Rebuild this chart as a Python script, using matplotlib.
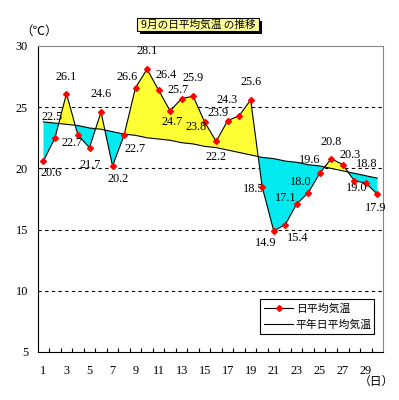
import numpy as np
import matplotlib
matplotlib.use("Agg")
import matplotlib.pyplot as plt
from matplotlib.patches import Rectangle

# September daily mean temperature vs normal
days = list(range(1, 31))
daily = [20.6, 22.5, 26.1, 22.7, 21.7, 24.6, 20.2, 22.7, 26.6, 28.1,
         26.4, 24.7, 25.7, 25.9, 23.8, 22.2, 23.9, 24.3, 25.6, 18.5,
         14.9, 15.4, 17.1, 18.0, 19.6, 20.8, 20.3, 19.0, 18.8, 17.9]
normal = [23.8, 23.7, 23.6, 23.5, 23.3, 23.2, 23.0, 22.8, 22.7, 22.5,
          22.4, 22.3, 22.1, 22.0, 21.8, 21.7, 21.5, 21.3, 21.1, 20.9,
          20.8, 20.6, 20.5, 20.3, 20.2, 20.0, 19.8, 19.6, 19.4, 19.2]
day_ticks = list(range(1, 30, 2))
y_ticks = [5, 10, 15, 20, 25, 30]

# label offsets in pixels (dx right, dy down), picked by eye
lbl_off = [(8, 12), (-3, -21), (0, -17), (-6, 8), (1, 17), (0, -18), (6, 13), (11, 14),
           (-8, -11), (0, -18), (8, -15), (2, 11), (-3, -9), (0, -18), (-9, 5), (0, 16),
           (-10, -8), (-12, -16), (0, -18), (-9, 2), (-8, 12), (12, 13), (-11, -6), (-8, -11),
           (-10, -13), (0, -17), (7, -10), (2, 7), (1, -19), (-2, 14)]

serif = ["Liberation Serif", "DejaVu Serif"]
jp = ["Noto Sans CJK JP", "DejaVu Sans"]

fig = plt.figure(figsize=(3.99, 4.0), dpi=100)
ax = fig.add_axes([0.0945, 0.12, 0.8655, 0.765])

d = np.array(days, dtype=float)
a = np.array(daily)
n = np.array(normal)
ax.fill_between(d, a, n, where=a >= n, interpolate=True, color="#FFFF33", lw=0, zorder=2)
ax.fill_between(d, a, n, where=a <= n, interpolate=True, color="#00EAF0", lw=0, zorder=2)

for g in [10, 15, 20, 25]:
    ax.axhline(g, color="black", lw=0.8, ls=(0, (3, 3)), zorder=1)

ax.plot(d, n, color="black", lw=0.8, zorder=3, label="平年日平均気温")
ax.plot(d, a, color="black", lw=0.8, zorder=4, marker="D", ms=3,
        mfc="red", mec="red", label="日平均気温")

for i, v in enumerate(daily):
    dx, dy = lbl_off[i]
    z = 1.5 if i == 19 else 5
    ax.annotate(f"{v:.1f}", (days[i], v), xytext=(dx, -dy), textcoords="offset pixels",
                ha="center", va="center", fontsize=8.8, family=serif, zorder=z)

ax.set_xlim(0.5, 30.5)
ax.set_ylim(5, 30)
ax.set_xticks(day_ticks)
ax.set_xticklabels([str(t) for t in day_ticks], family=serif, fontsize=8.8)
ax.set_xticks(np.arange(1.5, 30.5, 1), minor=True)
ax.tick_params(axis="x", which="major", length=0, pad=9)
ax.tick_params(axis="x", which="minor", direction="in", length=3, width=0.8)
ax.set_yticks(y_ticks)
ax.set_yticklabels([str(t) for t in y_ticks], family=serif, fontsize=8.8)
ax.tick_params(axis="y", length=0, pad=7)

for s in ["top", "right"]:
    ax.spines[s].set_color("#888888")
    ax.spines[s].set_linewidth(0.8)
for s in ["left", "bottom"]:
    ax.spines[s].set_color("black")
    ax.spines[s].set_linewidth(0.8)

h, l = ax.get_legend_handles_labels()
leg = ax.legend(h[::-1], l[::-1], loc="lower left", bbox_to_anchor=(0.644, 0.059, 0.33, 0.124),
                mode="expand", fancybox=False, edgecolor="black", framealpha=1,
                prop={"family": jp, "size": 7.8}, handlelength=2.6, borderpad=0.4,
                labelspacing=0.5, handletextpad=0.3, borderaxespad=0)
leg.get_frame().set_linewidth(0.8)

fig.text(39 / 399, 1 - 31.7 / 400, "（℃）", ha="center", va="center", fontsize=9, family=jp)
fig.text(376.7 / 399, 1 - 381.7 / 400, "（日）", ha="center", va="center", fontsize=8.5, family=jp)

# title box with shadow
fig.patches.append(Rectangle((140.3 / 399, 1 - 34 / 400), 122 / 399, 13.3 / 400,
                             transform=fig.transFigure, facecolor="black", lw=0))
fig.patches.append(Rectangle((137.3 / 399, 1 - 31 / 400), 122 / 399, 13.3 / 400,
                             transform=fig.transFigure, facecolor="#FFFF99",
                             edgecolor="black", lw=0.8))
fig.text(198.3 / 399, 1 - 24.3 / 400, "9月の日平均気温 の推移", ha="center", va="center",
         fontsize=7.7, family=jp)

fig.savefig("out.png", dpi=100)
